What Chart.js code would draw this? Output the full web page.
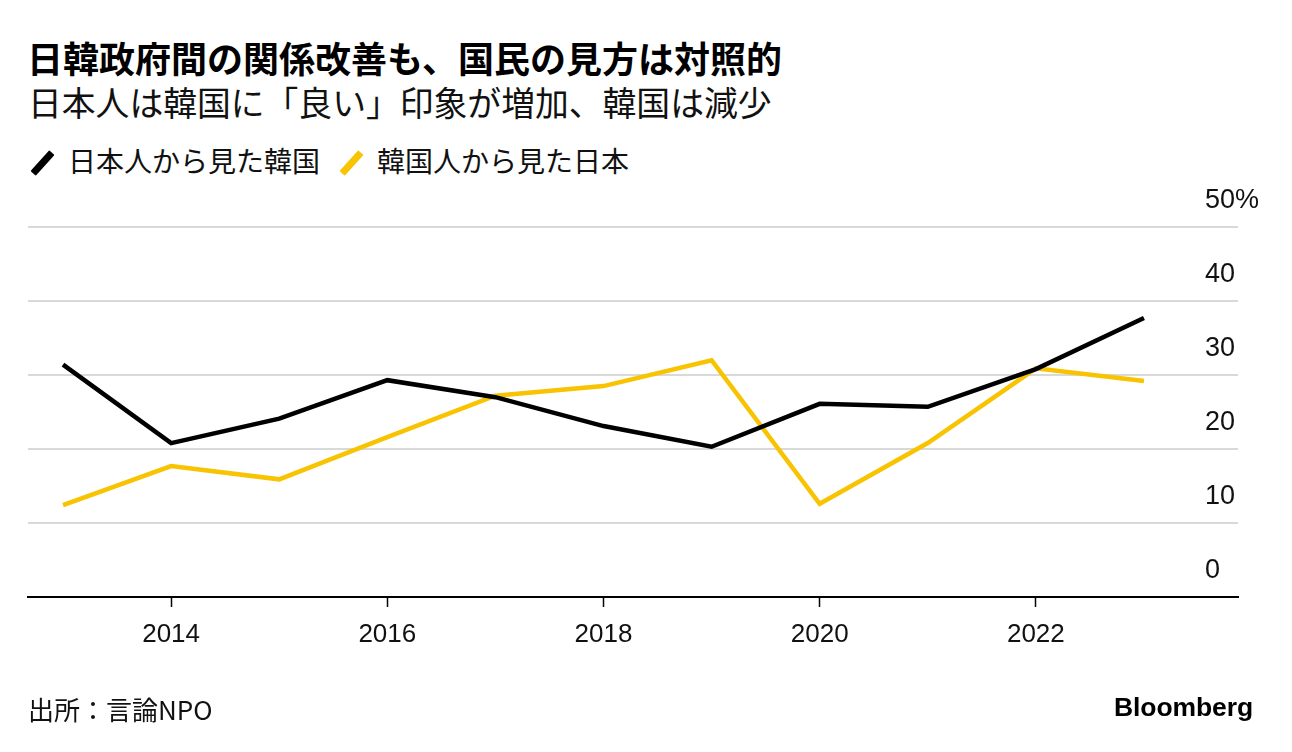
<!DOCTYPE html>
<html><head><meta charset="utf-8">
<script src="https://cdn.jsdelivr.net/npm/chart.js@4"></script>
<style>
html,body{margin:0;padding:0;background:#fff;width:1292px;height:752px;overflow:hidden;}
body{position:relative;font-family:"Noto Sans CJK JP","Noto Sans",sans-serif;color:#000;}
#title{position:absolute;left:27px;top:39px;font-size:36px;font-weight:700;line-height:1;white-space:nowrap;}
#sub{position:absolute;left:28px;top:85px;font-size:33.8px;font-weight:400;line-height:1;white-space:nowrap;color:#111;}
#legend{position:absolute;left:28px;top:146px;font-size:28px;line-height:1;white-space:nowrap;color:#111;}
.item{display:inline-block;margin-right:17px;}
.sw{display:inline-block;width:7px;height:28px;transform:rotate(42deg);vertical-align:-5px;margin:0 22px 0 11px;border-radius:1px;}
#src{position:absolute;left:28px;top:696px;font-size:26px;line-height:1;color:#111;}
#bb{position:absolute;left:1114px;top:694px;font-family:"Liberation Sans",Arial,sans-serif;font-size:26.5px;font-weight:700;letter-spacing:-0.1px;line-height:1;}
#c{position:absolute;left:0;top:0;}
</style></head>
<body>
<div id="title">日韓政府間の関係改善も、国民の見方は対照的</div>
<div id="sub">日本人は韓国に「良い」印象が増加、韓国は減少</div>
<div id="legend"><span class="item"><span class="sw" style="background:#000"></span>日本人から見た韓国</span><span class="item"><span class="sw" style="background:#F8C300"></span>韓国人から見た日本</span></div>
<canvas id="c" width="1292" height="752"></canvas>
<div id="src">出所：言論NPO</div>
<div id="bb">Bloomberg</div>
<script>
const years = [2013,2014,2015,2016,2017,2018,2019,2020,2021,2022,2023];
const japanViewOfKorea = [31.4,20.8,24.1,29.3,27.0,23.1,20.3,26.1,25.7,30.8,37.7];
const koreaViewOfJapan = [12.4,17.7,15.9,21.6,27.2,28.5,32.0,12.6,20.8,30.9,29.2];
const seriesNames = ["日本人から見た韓国","韓国人から見た日本"];
const xTicks = [2014,2016,2018,2020,2022];
const yTicks = [0,10,20,30,40,50];

const toPts = (arr) => years.map((y,i)=>({x:y,y:arr[i]}));
const numFamily = "'Liberation Sans', Arial, sans-serif";

const yLabelPlugin = {
  id:'yLabels',
  afterDraw(chart){
    const s = chart.scales.y, ctx = chart.ctx;
    ctx.save();
    ctx.font = '27px ' + numFamily;
    ctx.fillStyle = '#111';
    ctx.textAlign = 'left';
    ctx.textBaseline = 'middle';
    s.ticks.forEach(t=>{
      const txt = t.value===50 ? '50%' : String(t.value);
      ctx.fillText(txt, chart.chartArea.right - 33, s.getPixelForValue(t.value) - 26);
    });
    ctx.restore();
  }
};

new Chart(document.getElementById('c'), {
  type:'line',
  data:{datasets:[
    {label:seriesNames[0], data:toPts(japanViewOfKorea), borderColor:'#000', borderWidth:4.5, pointRadius:0, tension:0, borderJoinStyle:'miter', borderCapStyle:'butt'},
    {label:seriesNames[1], data:toPts(koreaViewOfJapan), borderColor:'#F8C300', borderWidth:4.5, pointRadius:0, tension:0, borderJoinStyle:'miter', borderCapStyle:'butt'}
  ]},
  options:{
    responsive:false, animation:false, devicePixelRatio:1,
    layout:{padding:{left:28, right:54, top:227, bottom:0}},
    plugins:{legend:{display:false}, tooltip:{enabled:false}},
    scales:{
      x:{type:'linear', min:2012.676, max:2023.87,
        afterBuildTicks:(s)=>{s.ticks = xTicks.map(v=>({value:v}));},
        afterFit:(s)=>{s.height = 155;},
        grid:{drawOnChartArea:false, drawTicks:true, tickLength:10, tickColor:'#000', tickWidth:1.5},
        border:{display:true, color:'#000', width:2},
        ticks:{font:{family:numFamily, size:26}, color:'#111', padding:12, maxRotation:0, callback:(v)=>String(v)}
      },
      y:{type:'linear', position:'right', min:0, max:50,
        afterBuildTicks:(s)=>{s.ticks = yTicks.map(v=>({value:v}));},
        afterFit:(s)=>{s.width = 0;},
        grid:{color:'#d9d9d9', lineWidth:2, drawTicks:false},
        border:{display:false},
        ticks:{display:false}
      }
    }
  },
  plugins:[yLabelPlugin]
});
</script>
</body></html>
